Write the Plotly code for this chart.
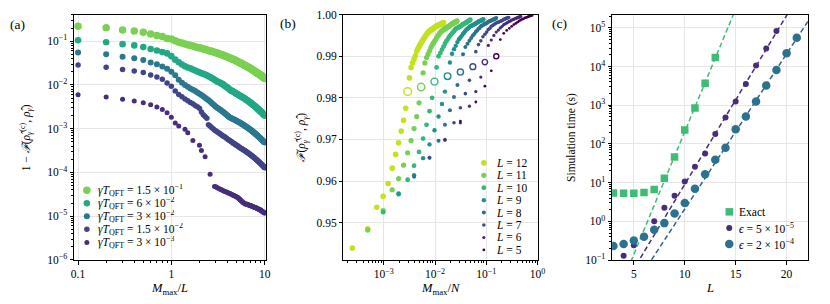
import numpy as np
import plotly.graph_objects as go

FIG_W, FIG_H = 830, 304
FONT = "Liberation Serif"

# ===================== panel (a) data =====================
L_A = 10
mmax_a = list(range(1, 101))
mmax_a_last = list(range(1, 13)) + [14, 15, 17, 20, 21, 23, 26, 29] + list(range(30, 101))
gammaT_labels = ["1.5 × 10<sup>−1</sup>", "6 × 10<sup>−2</sup>", "3 × 10<sup>−2</sup>",
                 "1.5 × 10<sup>−2</sup>", "3 × 10<sup>−3</sup>"]
# log10(1 - F)
log_infid_15e2 = [-0.655,-0.692,-0.743,-0.765,-0.793,-0.831,-0.868,-0.890,-0.934,-0.950,
    -0.99,-1.02,-1.04,-1.06,-1.08,-1.095,-1.11,-1.125,-1.14,-1.15,
    -1.16,-1.175,-1.185,-1.20,-1.21,-1.22,-1.23,-1.24,-1.25,-1.26,
    -1.27,-1.28,-1.29,-1.30,-1.31,-1.32,-1.33,-1.34,-1.35,-1.36,
    -1.37,-1.38,-1.39,-1.40,-1.405,-1.41,-1.42,-1.43,-1.44,-1.45,
    -1.46,-1.47,-1.48,-1.49,-1.50,-1.50,-1.51,-1.52,-1.53,-1.54,
    -1.55,-1.56,-1.56,-1.57,-1.58,-1.59,-1.60,-1.60,-1.61,-1.62,
    -1.63,-1.64,-1.64,-1.65,-1.66,-1.67,-1.68,-1.68,-1.69,-1.70,
    -1.71,-1.72,-1.72,-1.73,-1.74,-1.75,-1.75,-1.76,-1.76,-1.77,
    -1.78,-1.79,-1.79,-1.80,-1.81,-1.82,-1.83,-1.83,-1.84,-1.85]
log_infid_6e2 = [-0.978,-1.022,-1.066,-1.095,-1.132,-1.176,-1.211,-1.248,-1.277,-1.34,
    -1.42,-1.48,-1.53,-1.57,-1.60,-1.62,-1.645,-1.67,-1.69,-1.71,
    -1.73,-1.745,-1.76,-1.78,-1.80,-1.82,-1.84,-1.86,-1.88,-1.90,
    -1.92,-1.93,-1.945,-1.96,-1.975,-1.99,-2.01,-2.03,-2.045,-2.06,
    -2.08,-2.10,-2.12,-2.13,-2.14,-2.15,-2.16,-2.18,-2.19,-2.20,
    -2.21,-2.22,-2.235,-2.245,-2.25,-2.26,-2.275,-2.285,-2.29,-2.30,
    -2.31,-2.32,-2.335,-2.345,-2.35,-2.36,-2.37,-2.385,-2.395,-2.40,
    -2.41,-2.42,-2.43,-2.445,-2.455,-2.46,-2.47,-2.48,-2.49,-2.50,
    -2.51,-2.52,-2.535,-2.545,-2.55,-2.56,-2.57,-2.585,-2.595,-2.60,
    -2.61,-2.62,-2.63,-2.64,-2.65,-2.66,-2.67,-2.68,-2.69,-2.70]
log_infid_3e2 = [-1.255,-1.299,-1.352,-1.387,-1.431,-1.484,-1.527,-1.578,-1.629,-1.70,
    -1.78,-1.88,-1.95,-2.00,-2.04,-2.08,-2.11,-2.14,-2.17,-2.20,
    -2.23,-2.26,-2.29,-2.32,-2.35,-2.38,-2.41,-2.44,-2.47,-2.50,
    -2.52,-2.54,-2.56,-2.58,-2.60,-2.62,-2.64,-2.66,-2.68,-2.70,
    -2.72,-2.74,-2.75,-2.76,-2.77,-2.78,-2.79,-2.80,-2.81,-2.82,
    -2.83,-2.84,-2.85,-2.86,-2.87,-2.88,-2.89,-2.90,-2.91,-2.92,
    -2.93,-2.94,-2.95,-2.96,-2.97,-2.98,-2.99,-3.00,-3.01,-3.02,
    -3.03,-3.04,-3.05,-3.06,-3.07,-3.08,-3.09,-3.10,-3.11,-3.12,
    -3.13,-3.14,-3.15,-3.16,-3.17,-3.18,-3.19,-3.20,-3.21,-3.22,
    -3.23,-3.24,-3.25,-3.26,-3.27,-3.28,-3.29,-3.30,-3.31,-3.31]
log_infid_15e3 = [-1.541,-1.593,-1.644,-1.681,-1.716,-1.769,-1.820,-1.870,-1.952,-2.03,
    -2.14,-2.22,-2.27,-2.32,-2.36,-2.40,-2.43,-2.47,-2.50,-2.53,
    -2.62,-2.68,-2.72,-2.76,-2.91,-2.94,-2.97,-3.00,-3.03,-3.05,
    -3.07,-3.09,-3.11,-3.13,-3.15,-3.17,-3.18,-3.20,-3.22,-3.24,
    -3.25,-3.27,-3.28,-3.30,-3.31,-3.33,-3.34,-3.35,-3.37,-3.38,
    -3.39,-3.40,-3.42,-3.43,-3.44,-3.45,-3.46,-3.47,-3.48,-3.49,
    -3.50,-3.51,-3.52,-3.53,-3.54,-3.55,-3.56,-3.57,-3.58,-3.59,
    -3.60,-3.61,-3.62,-3.63,-3.64,-3.65,-3.66,-3.67,-3.68,-3.69,
    -3.70,-3.71,-3.72,-3.73,-3.74,-3.75,-3.76,-3.77,-3.78,-3.79,
    -3.80,-3.81,-3.82,-3.83,-3.84,-3.85,-3.86,-3.87,-3.88,-3.89]
log_infid_3e3 = [-2.222,-2.275,-2.325,-2.369,-2.407,-2.451,-2.501,-2.560,-2.633,-2.740,
    -2.87,-2.94,-3.01,-3.09,-3.27,-3.38,-3.50,-3.64,-4.04,-4.32,
    -4.33,-4.35,-4.36,-4.38,-4.39,-4.40,-4.42,-4.43,-4.44,-4.45,
    -4.46,-4.47,-4.48,-4.49,-4.50,-4.51,-4.52,-4.53,-4.54,-4.55,
    -4.56,-4.57,-4.58,-4.60,-4.61,-4.63,-4.65,-4.66,-4.68,-4.69,
    -4.70,-4.71,-4.72,-4.72,-4.73,-4.73,-4.74,-4.74,-4.75,-4.75,
    -4.76,-4.76,-4.77,-4.77,-4.78,-4.78,-4.79,-4.79,-4.80,-4.80,
    -4.81,-4.81,-4.82,-4.82,-4.83,-4.83,-4.84,-4.84,-4.85,-4.85,
    -4.86,-4.87,-4.87,-4.88,-4.89,-4.90,-4.90,-4.91,-4.92,-4.92,-4.93]
series_a = [(mmax_a, log_infid_15e2), (mmax_a, log_infid_6e2), (mmax_a, log_infid_3e2),
            (mmax_a, log_infid_15e3), (mmax_a_last, log_infid_3e3)]
colors_a = ["#7ad151", "#22a884", "#2a788e", "#414487", "#472d7b"]
sizes_a = [7.5, 6.6, 6.0, 5.5, 5.0]

# ===================== panel (b) data =====================
L_b = [12, 11, 10, 9, 8, 7, 6, 5]
fid_L12 = [0.9439,0.9485,0.9537,0.9563,0.9594,0.9631,0.9664,0.9692,0.9720,0.9746,0.9775,0.9815,
    0.9848,0.9873,0.9884,0.9893,0.9901,0.9912,0.9918,0.9923,0.9928,0.9932,0.9936,0.9940,0.9943,
    0.9946,0.9949,0.9952,0.9955,0.9957,0.9959,0.9960,0.9962,0.9963,0.9964,0.9965,0.9966,0.9967,
    0.9968,0.9969,0.9970,0.9971,0.9972,0.9972,0.9973,0.9974,0.9974,0.9975,0.9975,0.9976,0.9976,
    0.9977,0.9977,0.9978,0.9978,0.9979,0.9979,0.9980,0.9980,0.9981]
fid_L11 = [0.9482,0.9529,0.9579,0.9606,0.9638,0.9668,0.9697,0.9726,0.9755,0.9788,0.9826,
    0.9860,0.9884,0.9897,0.9905,0.9913,0.9921,0.9927,0.9932,0.9936,0.9940,0.9945,0.9948,0.9951,
    0.9955,0.9957,0.9959,0.9961,0.9962,0.9964,0.9965,0.9966,0.9967,0.9968,0.9969,0.9970,0.9971,
    0.9972,0.9973,0.9974,0.9975,0.9976,0.9977,0.9978,0.9978,0.9979,0.9980,0.9980,0.9981,0.9982,
    0.9982,0.9983,0.9983,0.9984,0.9985]
fid_L10 = [0.9525,0.9568,0.9603,0.9637,0.9670,0.9702,0.9735,0.9768,0.9800,0.9839,
    0.9873,0.9900,0.9908,0.9916,0.9923,0.9930,0.9936,0.9940,0.9945,0.9949,0.9952,0.9955,0.9958,
    0.9960,0.9964,0.9966,0.9967,0.9968,0.9969,0.9970,0.9971,0.9972,0.9973,0.9974,0.9976,0.9977,
    0.9977,0.9978,0.9979,0.9980,0.9981,0.9981,0.9982,0.9983,0.9984,0.9985,0.9985,0.9986,0.9987,
    0.9988]
fid_L9 = [0.9570,0.9614,0.9655,0.9688,0.9722,0.9755,0.9785,0.9815,0.9852,
    0.9885,0.9906,0.9917,0.9925,0.9934,0.9941,0.9945,0.9949,0.9954,0.9957,0.9961,0.9964,0.9966,
    0.9968,0.9970,0.9972,0.9973,0.9974,0.9975,0.9976,0.9977,0.9978,0.9979,0.9980,0.9981,0.9982,
    0.9983,0.9984,0.9984,0.9985,0.9986,0.9986,0.9987,0.9988,0.9988,0.9989]
fid_L8 = [0.9610,0.9656,0.9697,0.9735,0.9770,0.9802,0.9831,0.9862,
    0.9905,0.9922,0.9930,0.9937,0.9944,0.9950,0.9954,0.9959,0.9962,0.9966,0.9968,0.9972,0.9973,
    0.9975,0.9976,0.9978,0.9979,0.9980,0.9981,0.9983,0.9984,0.9985,0.9985,0.9986,0.9987,0.9988,
    0.9988,0.9989,0.9990,0.9990,0.9991,0.9992]
fid_L7 = [0.9656,0.9700,0.9740,0.9776,0.9810,0.9842,0.9875,
    0.9911,0.9928,0.9937,0.9947,0.9953,0.9958,0.9964,0.9967,0.9972,0.9974,0.9976,0.9978,0.9980,
    0.9981,0.9982,0.9983,0.9984,0.9985,0.9986,0.9987,0.9989,0.9989,0.9990,0.9991,0.9991,0.9992,
    0.9993,0.9993]
fid_L6 = [0.9698,0.9740,0.9780,0.9815,0.9850,0.9886,
    0.9926,0.9939,0.9950,0.9958,0.9963,0.9968,0.9972,0.9976,0.9978,0.9980,0.9982,0.9984,0.9985,
    0.9987,0.9988,0.9989,0.9990,0.9991,0.9992,0.9993,0.9994,0.9994,0.9995,0.9996]
fid_L5 = [0.9744,0.9790,0.9828,0.9865,0.9900,0.9940,0.9955,0.9962,0.9967,0.9972,0.9976,0.9979,
    0.9982,0.9985,0.9987,0.9989,0.9990,0.9992,0.9993,0.9994,0.9995,0.9996,0.9997,0.9998,0.9998]
fid_b = [fid_L12, fid_L11, fid_L10, fid_L9, fid_L8, fid_L7, fid_L6, fid_L5]
colors_b = ["#c5e021", "#75d054", "#35b779", "#20928c", "#2d708e", "#3e4a89", "#482979", "#440154"]
sizes_b = [5.6, 5.2, 4.8, 4.4, 4.0, 3.6, 3.2, 2.8]

# ===================== panel (c) data =====================
L_exact = [3, 4, 5, 6, 7, 8, 9, 10, 11, 12, 13]
t_exact = [5.4, 5.3, 5.3, 5.6, 6.6, 13, 46, 230, 850, 3700, 17000]
L_eps1 = list(range(4, 20))
t_eps1 = [0.13, 0.24, 0.42, 1.0, 2.25, 4.6, 10.7, 25.8, 57, 180, 480, 1250, 3550, 10600, 29000, 83000]
L_eps2 = list(range(3, 22))
t_eps2 = [0.23, 0.26, 0.32, 0.40, 0.61, 0.90, 1.6, 3.0, 7.0, 16.5, 39, 80, 240, 510, 1250, 3250,
          8100, 22000, 55000]
fit_from = [9, 10, 14]   # smallest L used in each exponential fit
labels_c = ["Exact", "<i>ϵ</i> = 5 × 10<sup>−5</sup>", "<i>ϵ</i> = 2 × 10<sup>−4</sup>"]
colors_c = ["#3fbc73", "#472d7b", "#2c728e"]
line_colors_c = ["#3fbc73", "#472d7b", "#31618d"]

# ===================== layout geometry (pixels) =====================
TOP, BOT = 9.0, 264.5
PANELS = [(72.0, 266.5), (345.0, 541.8), (617.3, 815.7)]
def xdom(p):
    return [p[0] / FIG_W, p[1] / FIG_W]
ydom = [1 - BOT / FIG_H, 1 - TOP / FIG_H]

fig = go.Figure()

# ---- (a)
for (mm, lg), c, s in zip(series_a, colors_a, sizes_a):
    fig.add_trace(go.Scatter(x=[m / L_A for m in mm], y=[10 ** v for v in lg], mode="markers",
                             marker=dict(color=c, size=s, line=dict(width=0)),
                             xaxis="x", yaxis="y", showlegend=False))

# ---- (b)
for L, F, c, s in zip(L_b, fid_b, colors_b, sizes_b):
    N = 2 ** L
    M = list(range(1, len(F) + 1))
    xs = [m / N for m in M if m != L]
    ys = [f for m, f in zip(M, F) if m != L]
    fig.add_trace(go.Scatter(x=xs, y=ys, mode="markers",
                             marker=dict(color=c, size=s, line=dict(width=0)),
                             xaxis="x2", yaxis="y2", showlegend=False))
    fig.add_trace(go.Scatter(x=[L / N], y=[F[L - 1]], mode="markers",
                             marker=dict(color="white", size=s + 2.2, symbol="circle",
                                         line=dict(width=1.4, color=c)),
                             xaxis="x2", yaxis="y2", showlegend=False))

# ---- (c)
datasets_c = [(L_exact, t_exact), (L_eps1, t_eps1), (L_eps2, t_eps2)]
xline = np.array([2.0, 23.0])
for (Ls, ts), lmin, lc in zip(datasets_c, fit_from, line_colors_c):
    Ls_a = np.array(Ls); lt = np.log10(ts)
    sel = Ls_a >= lmin
    k, b = np.polyfit(Ls_a[sel], lt[sel], 1)
    fig.add_trace(go.Scatter(x=xline, y=10 ** (k * xline + b), mode="lines",
                             line=dict(color=lc, width=1.5, dash="5px,3px"),
                             xaxis="x3", yaxis="y3", showlegend=False))
symbols_c = ["square", "circle", "circle"]
sizes_c = [7.5, 6.0, 8.5]
for (Ls, ts), c, sym, s in zip(datasets_c, colors_c, symbols_c, sizes_c):
    fig.add_trace(go.Scatter(x=Ls, y=ts, mode="markers",
                             marker=dict(color=c, size=s, symbol=sym, line=dict(width=0)),
                             xaxis="x3", yaxis="y3", showlegend=False))

# ===================== legends (drawn on a pixel overlay) =====================
ann = []
def legend_block(x_mark, x_text, y0, dy, labels, colors, sizes, symbols, fsize=11.5):
    for i, (lab, c, s, sym) in enumerate(zip(labels, colors, sizes, symbols)):
        y = y0 + i * dy
        fig.add_trace(go.Scatter(x=[x_mark], y=[y], mode="markers",
                                 marker=dict(color=c, size=s, symbol=sym, line=dict(width=0)),
                                 xaxis="x4", yaxis="y4", showlegend=False, cliponaxis=False))
        ann.append(dict(x=x_text, y=y, xref="x4", yref="y4", text=lab, showarrow=False,
                        xanchor="left", yanchor="middle", height=dy - 1.0, valign="middle",
                        font=dict(family=FONT, size=fsize, color="black")))

legend_block(85, 94, 191.7, 13.6,
             ["<i>γT</i><sub>QFT</sub> = " + g for g in gammaT_labels],
             colors_a, sizes_a, ["circle"] * 5)
legend_block(487.3, 498, 163.3, 12.95,
             ["<i>L</i> = %d" % L for L in L_b], colors_b, sizes_b, ["circle"] * 8)
legend_block(736, 744, 214.3, 16.7, labels_c, colors_c, sizes_c, symbols_c)

# ===================== axes =====================
tickfont = dict(family=FONT, size=11.5, color="black")
def base_axis(**kw):
    d = dict(showline=True, linecolor="black", linewidth=1, mirror=True,
             ticks="outside", ticklen=3.5, tickwidth=0.8, tickcolor="black",
             showgrid=True, gridcolor="#e6e6e6", gridwidth=0.8, zeroline=False,
             tickfont=tickfont, fixedrange=True)
    d.update(kw)
    return d

def log_minor(e0, e1, lo, hi):
    vals = [k * 10.0 ** e for e in range(e0, e1) for k in range(2, 10)]
    return dict(ticks="outside", ticklen=2, tickwidth=0.6, tickcolor="black", showgrid=False,
                tickmode="array", tickvals=[v for v in vals if lo <= v <= hi])

def pow_text(e):
    return "10<sup>%s</sup>" % (str(e).replace("-", "−"))

layout = dict(
    width=FIG_W, height=FIG_H, autosize=False,
    margin=dict(l=0, r=0, t=0, b=0, pad=0),
    paper_bgcolor="white", plot_bgcolor="rgba(0,0,0,0)", showlegend=False,
    font=dict(family=FONT, size=11, color="black"),
    xaxis=base_axis(domain=xdom(PANELS[0]), anchor="y", type="log", range=[-1.043, 1.014],
                    tickmode="array", tickvals=[0.1, 1, 10], ticktext=["0.1", "1", "10"],
                    minor=log_minor(-2, 2, 0.09, 10.4)),
    yaxis=base_axis(domain=ydom, anchor="x", type="log", range=[-6.004, -0.391],
                    tickmode="array", tickvals=[10.0 ** e for e in range(-6, 0)],
                    ticktext=[pow_text(e) for e in range(-6, 0)],
                    minor=log_minor(-7, 1, 1e-6, 0.41)),
    xaxis2=base_axis(domain=xdom(PANELS[1]), anchor="y2", type="log", range=[-3.785, 0.0],
                     tickmode="array", tickvals=[1e-3, 1e-2, 1e-1, 1],
                     ticktext=[pow_text(e) for e in [-3, -2, -1, 0]],
                     minor=log_minor(-4, 1, 1.64e-4, 1.0)),
    yaxis2=base_axis(domain=ydom, anchor="x2", range=[0.9410, 1.0],
                     tickmode="array", tickvals=[0.95, 0.96, 0.97, 0.98, 0.99, 1.0],
                     ticktext=["0.95", "0.96", "0.97", "0.98", "0.99", "1.00"]),
    xaxis3=base_axis(domain=xdom(PANELS[2]), anchor="y3", range=[2.87, 22.09],
                     tickmode="array", tickvals=[5, 10, 15, 20]),
    yaxis3=base_axis(domain=ydom, anchor="x3", type="log", range=[-1.0, 5.34],
                     tickmode="array", tickvals=[10.0 ** e for e in range(-1, 6)],
                     ticktext=[pow_text(e) for e in range(-1, 6)],
                     minor=log_minor(-2, 6, 0.1, 2.1e5)),
    xaxis4=dict(domain=[0, 1], range=[0, FIG_W], visible=False, anchor="y4", fixedrange=True),
    yaxis4=dict(domain=[0, 1], range=[FIG_H, 0], visible=False, anchor="x4", fixedrange=True),
)

# ===================== titles & panel labels =====================
def ptext(x, y, text, size=11, angle=0):
    ann.append(dict(x=x, y=y, xref="x4", yref="y4", text=text, showarrow=False,
                    xanchor="center", yanchor="middle", textangle=angle,
                    font=dict(family=FONT, size=size, color="black")))

ptext(15, 19, "(a)", 13.5)
ptext(289, 18, "(b)", 13.5)
ptext(564, 18, "(c)", 13.5)
ptext(169, 295, "<i>M</i><sub>max</sub>/<i>L</i>", 12.5)
ptext(443, 295, "<i>M</i><sub>max</sub>/<i>N</i>", 12.5)
ptext(716, 294, "<i>L</i>", 12.5)
ytitle_F = "<i>ℱ</i>(<i>ρ̂</i><sub><i>γ</i></sub><sup>(c)</sup>, <i>ρ̂</i><sub><i>γ</i></sub>)"
ptext(23, 137, "1 − " + ytitle_F, 11.5, -90)
ptext(302, 137, ytitle_F, 11.5, -90)
ptext(576, 137, "Simulation time (s)", 11.5, -90)

layout["annotations"] = ann
fig.update_layout(**layout)

fig.write_html("out.html", config={"displayModeBar": False},
               post_script="document.body.style.margin='0px';")
